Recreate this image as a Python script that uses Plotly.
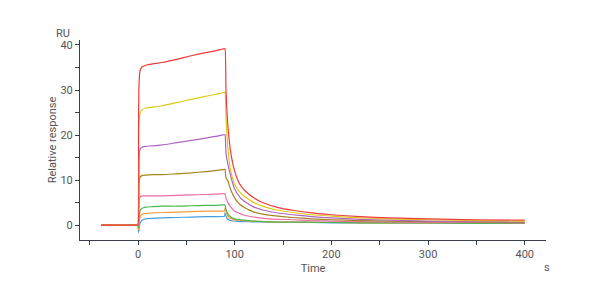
import plotly.graph_objects as go

# Time points (s)
time = [-38, -1, 0, 0.5, 1, 2, 4, 8, 15, 25, 40, 55, 70, 80, 89.5, 90, 91, 93, 96,
        100, 105, 110, 120, 130, 145, 160, 180, 200, 230, 260, 300, 350, 400]

red = [0, 0, 0, 20, 31, 34.2, 35.1, 35.5, 35.8, 36.1, 36.8, 37.6, 38.3, 38.7, 39.2, 39.2, 30, 22, 16,
       12, 9.2, 7.8, 6.0, 4.9, 3.9, 3.3, 2.7, 2.3, 1.9, 1.6, 1.4, 1.2, 1.1]
yellow = [0, 0, 0, 14, 22, 24.8, 25.6, 26.0, 26.2, 26.5, 27.2, 27.9, 28.6, 29.0, 29.5, 29.5, 24, 17, 12,
          9, 7.4, 6.4, 5.0, 4.1, 3.3, 2.8, 2.3, 2.0, 1.6, 1.4, 1.2, 1.0, 0.9]
purple = [0, 0, 0, 9, 14.5, 16.8, 17.3, 17.5, 17.6, 17.8, 18.3, 18.8, 19.3, 19.7, 20.1, 20.1, 16, 13.5, 10.8,
          8.0, 6.3, 5.3, 4.0, 3.3, 2.7, 2.3, 1.9, 1.6, 1.3, 1.1, 0.9, 0.8, 0.7]
brown = [0, 0, 0, 6, 9.5, 10.6, 11.0, 11.1, 11.2, 11.2, 11.4, 11.6, 11.9, 12.1, 12.4, 12.4, 10.5, 9.8, 7.8,
         6.0, 4.7, 3.9, 2.9, 2.4, 2.0, 1.7, 1.4, 1.2, 1.0, 0.9, 0.8, 0.7, 0.6]
pink = [0, 0, 0, 3.5, 5.5, 6.2, 6.5, 6.5, 6.5, 6.5, 6.6, 6.7, 6.8, 6.9, 7.0, 7.0, 6.0, 5.0, 4.0,
        3.1, 2.6, 2.2, 1.8, 1.5, 1.3, 1.2, 1.0, 0.9, 0.8, 0.7, 0.6, 0.6, 0.5]
green = [0, 0, 0, -0.5, 1.5, 3.0, 3.7, 4.0, 4.1, 4.2, 4.2, 4.3, 4.4, 4.4, 4.5, 4.4, 3.5, 2.5, 1.8,
         1.4, 1.2, 1.1, 0.9, 0.8, 0.7, 0.7, 0.6, 0.6, 0.5, 0.5, 0.5, 0.4, 0.4]
orange = [0, 0, 0, -1.0, 0.5, 1.8, 2.4, 2.6, 2.7, 2.8, 2.9, 3.0, 3.1, 3.1, 3.2, 3.8, 3.0, 2.0, 1.5,
          1.2, 1.1, 1.0, 0.9, 0.8, 0.7, 0.7, 0.6, 0.6, 0.5, 0.5, 0.5, 0.5, 0.4]
blue = [0, 0, 0, -1.6, -1.0, 0.3, 1.1, 1.4, 1.5, 1.6, 1.7, 1.8, 1.9, 1.9, 2.0, 2.7, 2.0, 1.3, 1.0,
        0.9, 0.8, 0.8, 0.7, 0.7, 0.6, 0.6, 0.6, 0.5, 0.5, 0.5, 0.5, 0.4, 0.4]

series = [
    ("blue", blue, "#4a9fe0"),
    ("orange", orange, "#ff9a3c"),
    ("green", green, "#4cb84c"),
    ("pink", pink, "#f06ca8"),
    ("brown", brown, "#a58420"),
    ("purple", purple, "#b065c4"),
    ("yellow", yellow, "#dccb1c"),
    ("red", red, "#ee3b3b"),
]

fig = go.Figure()
for name, vals, col in series:
    fig.add_trace(go.Scatter(x=time, y=vals, mode="lines", name=name,
                             line=dict(color=col, width=1.2, shape="spline", smoothing=0.6),
                             showlegend=False))

axis_font = dict(family="Roboto, sans-serif", size=11, color="#555555")
fig.update_layout(
    width=600, height=300,
    margin=dict(l=80, r=54, t=40, b=60),
    paper_bgcolor="white", plot_bgcolor="white",
    font=axis_font,
    xaxis=dict(range=[-60, 422], showgrid=False, zeroline=False,
               showline=True, linecolor="#3a3f4a", linewidth=1,
               ticks="outside", ticklen=4, tickcolor="#3a3f4a",
               tickvals=[0, 100, 200, 300, 400],
               minor=dict(tickvals=[-50, 50, 150, 250, 350], ticks="outside", ticklen=4, tickcolor="#3a3f4a"),
               title=dict(text="Time", font=axis_font, standoff=4)),
    yaxis=dict(range=[-3.3, 41.1], showgrid=False, zeroline=False,
               showline=True, linecolor="#3a3f4a", linewidth=1,
               ticks="outside", ticklen=4, tickcolor="#3a3f4a",
               tickvals=[0, 10, 20, 30, 40],
               minor=dict(tickvals=[5, 15, 25, 35], ticks="outside", ticklen=4, tickcolor="#3a3f4a"),
               title=dict(text="Relative response", font=axis_font, standoff=1)),
    annotations=[
        dict(text="RU", xref="paper", yref="paper", x=(63 - 80) / 466, y=(240 - 33) / 200,
             xanchor="center", yanchor="middle", showarrow=False, font=axis_font),
        dict(text="s", xref="paper", yref="paper", x=(547 - 80) / 466, y=(240 - 267) / 200,
             xanchor="center", yanchor="middle", showarrow=False, font=axis_font),
    ],
)

fig.write_html("out.html")
